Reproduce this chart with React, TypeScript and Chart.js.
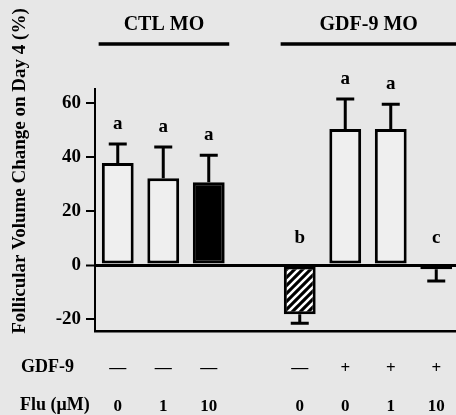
import React, { useEffect, useRef } from "react";
import { Chart, registerables } from "chart.js";

Chart.register(...registerables);

// ---- data ----
const categories = ["CTL 0", "CTL 1", "CTL 10", "", "GDF 0", "GDF+ 0", "GDF+ 1", "GDF+ 10"];
const values: (number | null)[] = [37.8, 32.2, 30.7, null, -18.2, 50.4, 50.4, -1.5];
const errors: (number | null)[] = [7.0, 11.5, 10.0, null, 3.3, 11.1, 9.2, 4.4];
const letters = ["a", "a", "a", "", "b", "a", "a", "c"];
const gdfRow = ["—", "—", "—", "", "—", "+", "+", "+"];
const fluRow = ["0", "1", "10", "", "0", "0", "1", "10"];
const yTicks = [-20, 0, 20, 40, 60];
const groupLabels = ["CTL MO", "GDF-9 MO"];
const groupFrom = [0, 4];
const groupTo = [2, 7];
const rowHeaders = ["GDF-9", "Flu (μM)"];
const yTitle = "Follicular Volume Change on Day 4 (%)";

// ---- styles ----
const fillKinds = ["open", "open", "solid", "none", "hatch", "open", "open", "solid"];
const BG = "#e7e7e7";
const BAR_BG = "#efefef";
const FONT = "'Liberation Serif', 'Times New Roman', serif";

function makeHatch(): CanvasPattern | string {
  const c = document.createElement("canvas");
  c.width = 8;
  c.height = 8;
  const g = c.getContext("2d");
  if (!g) return "#000";
  g.fillStyle = "#000";
  g.fillRect(0, 0, 8, 8);
  g.strokeStyle = "#fff";
  g.lineWidth = 2.6;
  g.beginPath();
  g.moveTo(-2, 10);
  g.lineTo(10, -2);
  g.moveTo(-6, 6);
  g.lineTo(6, -6);
  g.moveTo(2, 14);
  g.lineTo(14, 2);
  g.stroke();
  const p = g.createPattern(c, "repeat");
  return p || "#000";
}

const overlayPlugin = {
  id: "overlay",
  beforeDraw(chart: any) {
    const ctx = chart.ctx;
    ctx.save();
    ctx.fillStyle = BG;
    ctx.fillRect(0, 0, chart.width, chart.height);
    ctx.restore();
  },
  afterDatasetsDraw(chart: any) {
    const ctx = chart.ctx;
    const y = chart.scales.y;
    const meta = chart.getDatasetMeta(0);
    ctx.save();
    ctx.strokeStyle = "#000";
    ctx.fillStyle = "#000";
    ctx.lineWidth = 3;
    values.forEach((v, i) => {
      const e = errors[i];
      if (v === null || e === null) return;
      const x = meta.data[i].x;
      const sign = v >= 0 ? 1 : -1;
      const y0 = y.getPixelForValue(v);
      const y1 = y.getPixelForValue(v + sign * e);
      ctx.beginPath();
      ctx.moveTo(x, y0);
      ctx.lineTo(x, y1);
      ctx.moveTo(x - 9, y1);
      ctx.lineTo(x + 9, y1);
      ctx.stroke();
      const top = Math.max(v > 0 ? v + e : 0, 0);
      const ly = y.getPixelForValue(top) - (top > 0 ? 20 : 27);
      ctx.font = `bold 19px ${FONT}`;
      ctx.textAlign = "center";
      ctx.textBaseline = "middle";
      ctx.fillText(letters[i], x, ly);
    });
    ctx.restore();
  },
  afterDraw(chart: any) {
    const ctx = chart.ctx;
    const xs = chart.scales.x;
    const meta = chart.getDatasetMeta(0);
    const step = meta.data[1].x - meta.data[0].x;
    ctx.save();
    ctx.fillStyle = "#000";
    ctx.strokeStyle = "#000";
    // group headers
    groupLabels.forEach((lab, k) => {
      const x0 = xs.getPixelForValue(groupFrom[k]) - step * 0.42;
      const x1 = xs.getPixelForValue(groupTo[k]) + step * 0.45;
      ctx.lineWidth = 3.5;
      ctx.beginPath();
      ctx.moveTo(x0, 44);
      ctx.lineTo(x1, 44);
      ctx.stroke();
      ctx.font = `bold 20px ${FONT}`;
      ctx.textAlign = "center";
      ctx.textBaseline = "middle";
      ctx.fillText(lab, (x0 + x1) / 2, 25);
    });
    // row headers
    ctx.font = `bold 18px ${FONT}`;
    ctx.textAlign = "left";
    ctx.textBaseline = "middle";
    ctx.fillText(rowHeaders[0], 21, xs.top + 36);
    ctx.fillText(rowHeaders[1], 20, xs.top + 74);
    // y title
    ctx.translate(20, 171);
    ctx.rotate(-Math.PI / 2);
    ctx.font = `bold 19px ${FONT}`;
    ctx.textAlign = "center";
    ctx.textBaseline = "middle";
    ctx.fillText(yTitle, 0, 0);
    ctx.restore();
  },
};

export default function App() {
  const ref = useRef<HTMLCanvasElement | null>(null);
  useEffect(() => {
    if (!ref.current) return;
    const hatch = makeHatch();
    const fills = fillKinds.map((k) =>
      k === "solid" ? "#000" : k === "hatch" ? hatch : k === "open" ? BAR_BG : "rgba(0,0,0,0)"
    );
    const chart = new Chart(ref.current, {
      type: "bar",
      data: {
        labels: categories,
        datasets: [
          {
            data: values as any,
            backgroundColor: fills as any,
            borderColor: "#000",
            borderWidth: 3,
            borderSkipped: false,
            barPercentage: 0.7,
            categoryPercentage: 1,
          },
        ],
      },
      options: {
        animation: false,
        responsive: false,
        devicePixelRatio: 1,
        layout: { padding: { top: 89, right: 5, left: 0, bottom: 0 } },
        plugins: { legend: { display: false }, tooltip: { enabled: false }, title: { display: false } },
        scales: {
          x: {
            type: "category",
            offset: true,
            grid: { display: false },
            border: { display: true, color: "#000", width: 2.5 },
            afterFit: (s: any) => {
              s.height = 84;
            },
            ticks: {
              autoSkip: false,
              maxRotation: 0,
              minRotation: 0,
              padding: 11,
              color: "#000",
              font: { family: FONT, size: 17, weight: "bold", lineHeight: "38px" } as any,
              callback: (_v: any, i: number) => [gdfRow[i], fluRow[i]],
            },
          },
          y: {
            min: -24.4,
            max: 65.2,
            afterBuildTicks: (s: any) => {
              s.ticks = yTicks.map((v) => ({ value: v }));
            },
            afterFit: (s: any) => {
              s.width = 95;
            },
            border: { display: true, color: "#000", width: 2 },
            grid: {
              display: true,
              drawOnChartArea: true,
              drawTicks: true,
              tickLength: 9,
              tickWidth: 2,
              tickColor: "#000",
              color: (c: any) => (c.tick && c.tick.value === 0 ? "#000" : "rgba(0,0,0,0)"),
              lineWidth: (c: any) => (c.tick && c.tick.value === 0 ? 3 : 0),
            },
            ticks: {
              padding: 5,
              color: "#000",
              font: { family: FONT, size: 19, weight: "bold" },
              callback: (v: any) => String(v),
            },
          },
        },
      },
      plugins: [overlayPlugin],
    });
    return () => chart.destroy();
  }, []);
  return (
    <div
      style={{
        position: "fixed",
        left: 0,
        top: 0,
        width: 456,
        height: 415,
        overflow: "hidden",
        background: BG,
      }}
    >
      <canvas ref={ref} width={464} height={415} style={{ display: "block", width: 464, height: 415 }} />
    </div>
  );
}
